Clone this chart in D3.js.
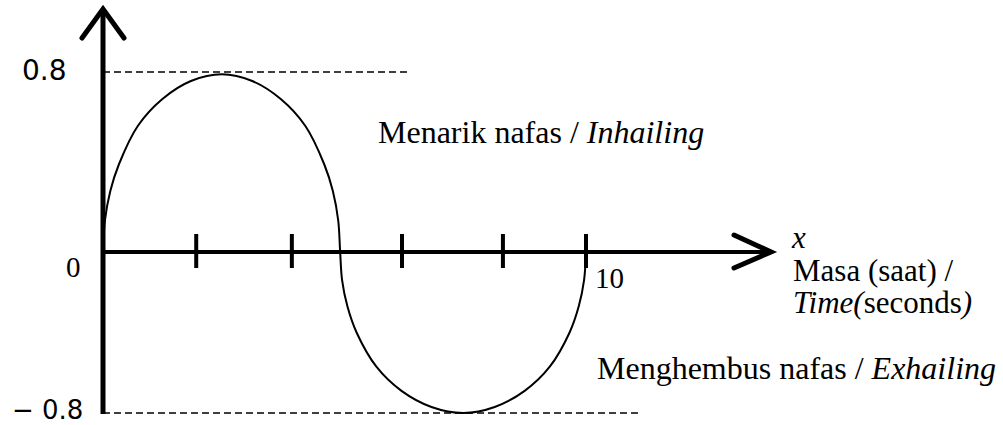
<!DOCTYPE html>
<html>
<head>
<meta charset="utf-8">
<script src="https://cdn.jsdelivr.net/npm/d3@7"></script>
<style>
    body { margin: 0; background: #fff; }
    svg { display: block; }
</style>
</head>
<body>
<div id="chart"></div>
<script>
// breathing cycle: time (s) vs air flow
let timeValues = [0, 0.04, 0.15, 0.33, 0.72, 1.23, 1.82, 2.46, 3.09, 3.68, 4.19, 4.58, 4.76, 4.87, 4.91,
    4.95, 5.06, 5.25, 5.66, 6.18, 6.80, 7.46, 8.11, 8.73, 9.25, 9.66, 9.85, 9.96, 10];
let flowValues = [0, 0.14, 0.27, 0.39, 0.56, 0.68, 0.76, 0.79, 0.76, 0.68, 0.56, 0.39, 0.27, 0.14, 0,
    -0.14, -0.27, -0.40, -0.57, -0.69, -0.77, -0.80, -0.77, -0.69, -0.57, -0.40, -0.27, -0.14, 0];
let tickValues = [1.93, 3.91, 6.19, 8.28, 10];
let levelValues = [0.8, -0.8];

let width = 1003, height = 425;
let serif = "'Liberation Serif', 'Times New Roman', Times, serif";

let svg = d3.select("#chart").append("svg")
    .attr("width", width)
    .attr("height", height)
    .attr("font-family", serif);

// scales (lower half of the sketch is a little squashed)
let x = d3.scaleLinear().domain([0, 10]).range([103, 586]);
let y = d3.scaleLinear().domain([-0.8, 0, 0.8]).range([413, 252, 72]);

// dashed guide lines at +/- 0.8
let dashEnd = {"0.8": 408, "-0.8": 640};
svg.selectAll(".level")
    .data(levelValues)
    .enter().append("line")
    .attr("class", "level")
    .attr("x1", x(0))
    .attr("x2", d => dashEnd[d])
    .attr("y1", d => y(d))
    .attr("y2", d => y(d))
    .attr("stroke", "#000")
    .attr("stroke-width", 1.6)
    .attr("stroke-dasharray", "7,4");

// the curve
let pts = timeValues.map((t, i) => [t, flowValues[i]]);
let line = d3.line()
    .x(d => x(d[0]))
    .y(d => y(d[1]))
    .curve(d3.curveCatmullRom.alpha(0.5));

svg.append("path")
    .datum(pts)
    .attr("d", line)
    .attr("fill", "none")
    .attr("stroke", "#000")
    .attr("stroke-width", 2);

// axes
let x0 = x(0), y0 = y(0);
svg.append("line")
    .attr("x1", x0).attr("x2", 770)
    .attr("y1", y0).attr("y2", y0)
    .attr("stroke", "#000").attr("stroke-width", 4);
svg.append("line")
    .attr("x1", x0).attr("x2", x0)
    .attr("y1", y(-0.8) + 1).attr("y2", 10)
    .attr("stroke", "#000").attr("stroke-width", 5);

// arrow heads
svg.append("path")
    .attr("d", `M${x0 - 21},38 L${x0},9 L${x0 + 21},38`)
    .attr("fill", "none").attr("stroke", "#000")
    .attr("stroke-width", 5).attr("stroke-linecap", "round");
svg.append("path")
    .attr("d", `M734,${y0 - 17} L771,${y0} L734,${y0 + 16}`)
    .attr("fill", "none").attr("stroke", "#000")
    .attr("stroke-width", 5).attr("stroke-linecap", "round");

// ticks crossing the x axis
svg.selectAll(".tick")
    .data(tickValues)
    .enter().append("line")
    .attr("class", "tick")
    .attr("x1", d => x(d)).attr("x2", d => x(d))
    .attr("y1", y0 - 18).attr("y2", y0 + 16)
    .attr("stroke", "#000").attr("stroke-width", 4);

// labels
function label(px, py, size, txt) {
    return svg.append("text")
        .attr("x", px).attr("y", py)
        .attr("font-family", serif)
        .attr("font-size", size)
        .text(txt);
}

label(595, 288, 29, "10");
label(66, 277, 29, "0");
label(22, y(0.8) + 8, 28, "0.8").attr("font-family", "'DejaVu Sans', sans-serif");
label(12, y(-0.8) + 6, 26, "\u2212 0.8").attr("font-family", "'DejaVu Sans', sans-serif");

let t1 = label(378, 143, 32, null);
t1.append("tspan").text("Menarik nafas / ");
t1.append("tspan").attr("font-style", "italic").text("Inhailing");

let t2 = label(597, 379, 32, null);
t2.append("tspan").text("Menghembus nafas / ");
t2.append("tspan").attr("font-style", "italic").text("Exhailing");

label(792, 248, 31, "x").attr("font-style", "italic");
label(793, 281, 31, "Masa (saat) /");
let t3 = label(793, 313, 31, null);
t3.append("tspan").attr("font-style", "italic").text("Time(");
t3.append("tspan").text("seconds");
t3.append("tspan").attr("font-style", "italic").text(")");
</script>
</body>
</html>
